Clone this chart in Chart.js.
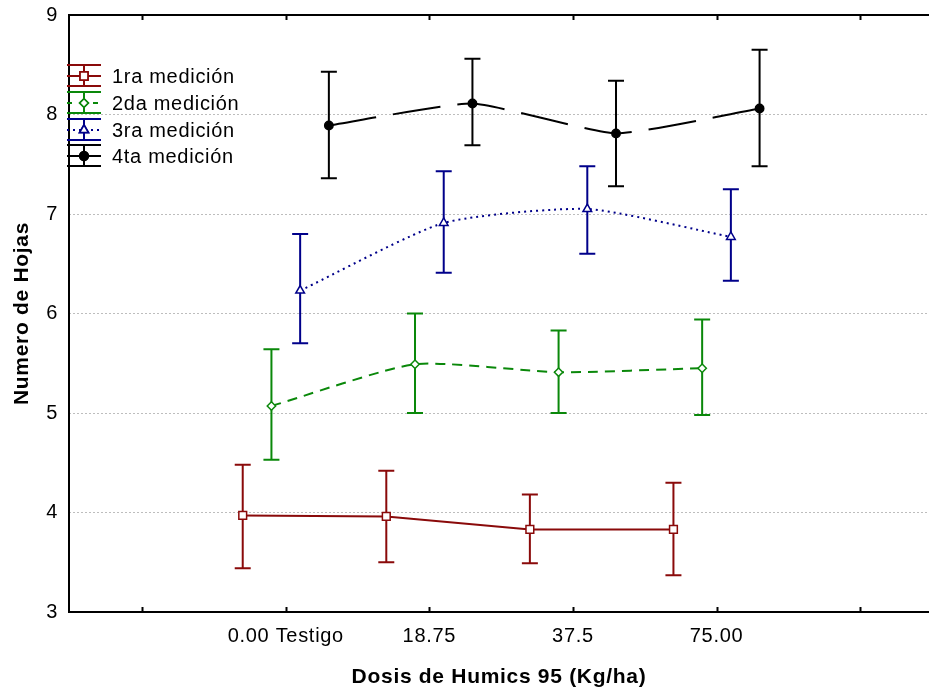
<!DOCTYPE html>
<html>
<head>
<meta charset="utf-8">
<script src="https://cdn.jsdelivr.net/npm/chart.js@4/dist/chart.umd.min.js"></script>
<style>
  html, body { margin: 0; padding: 0; background: #fff; overflow: hidden; }
  #wrap { width: 929px; height: 692px; }
</style>
</head>
<body>
<div id="wrap"><canvas id="chart"></canvas></div>
<script>
// Data
const categories = ["0.00 Testigo", "18.75", "37.5", "75.00"];
const seriesNames = ["1ra medición", "2da medición", "3ra medición", "4ta medición"];

const mean1 = [3.97, 3.96, 3.83, 3.83];
const upper1 = [4.48, 4.42, 4.18, 4.30];
const lower1 = [3.44, 3.50, 3.49, 3.37];

const mean2 = [5.07, 5.49, 5.41, 5.45];
const upper2 = [5.64, 6.00, 5.83, 5.94];
const lower2 = [4.53, 5.00, 5.00, 4.98];

const mean3 = [6.23, 6.91, 7.05, 6.77];
const upper3 = [6.80, 7.43, 7.48, 7.25];
const lower3 = [5.70, 6.41, 6.60, 6.33];

const mean4 = [7.89, 8.11, 7.81, 8.06];
const upper4 = [8.43, 8.56, 8.34, 8.65];
const lower4 = [7.36, 7.69, 7.28, 7.48];

const yTicks = [3, 4, 5, 6, 7, 8, 9];

// Styles for each series
const colors = ["#8a0a0a", "#0a880a", "#00008a", "#000000"];
const offsets = [-0.3, -0.1, 0.1, 0.3];
const dashes = [[], [10, 7], [2, 4], [48, 17]];
const markers = ["rect", "rectRot", "triangle", "circle"];
const markerSizes = [5.5, 4.2, 5, 4.2];
const markerFill = ["#fff", "#fff", "#fff", "#000"];
const tensions = [0, 0.2, 0.2, 0.15];

const means = [mean1, mean2, mean3, mean4];
const uppers = [upper1, upper2, upper3, upper4];
const lowers = [lower1, lower2, lower3, lower4];

const FONT = "'Liberation Sans', Arial, sans-serif";

const datasets = means.map((m, s) => ({
  label: seriesNames[s],
  data: m.map((v, i) => ({ x: i + 1 + offsets[s], y: v })),
  upper: uppers[s],
  lower: lowers[s],
  borderColor: colors[s],
  borderWidth: 2,
  borderDash: dashes[s],
  tension: tensions[s],
  pointStyle: markers[s],
  pointRadius: markerSizes[s],
  pointBackgroundColor: markerFill[s],
  pointBorderColor: colors[s],
  pointBorderWidth: 1.5,
  fill: false
}));

// loose text spacing like the original
const spacing = {
  id: "spacing",
  beforeDraw(chart) { chart.ctx.letterSpacing = "0.7px"; }
};

// error bars, drawn under the markers
const errorBars = {
  id: "errorBars",
  beforeDatasetsDraw(chart) {
    const ctx = chart.ctx;
    const xs = chart.scales.x, ys = chart.scales.y;
    ctx.save();
    chart.data.datasets.forEach(ds => {
      ctx.strokeStyle = ds.borderColor;
      ctx.lineWidth = 2;
      ctx.setLineDash([]);
      ds.data.forEach((p, i) => {
        const x = xs.getPixelForValue(p.x);
        const yt = ys.getPixelForValue(ds.upper[i]);
        const yb = ys.getPixelForValue(ds.lower[i]);
        ctx.beginPath();
        ctx.moveTo(x, yt); ctx.lineTo(x, yb);
        ctx.moveTo(x - 8, yt); ctx.lineTo(x + 8, yt);
        ctx.moveTo(x - 8, yb); ctx.lineTo(x + 8, yb);
        ctx.stroke();
      });
    });
    ctx.restore();
  }
};

// frame lines, inward ticks and the legend box
const frame = {
  id: "frame",
  afterDraw(chart) {
    const ctx = chart.ctx;
    const a = chart.chartArea;
    const xs = chart.scales.x;
    ctx.save();
    ctx.strokeStyle = "#000";
    ctx.lineWidth = 2;
    ctx.setLineDash([]);
    ctx.beginPath();
    ctx.moveTo(a.left, a.bottom); ctx.lineTo(a.left, a.top); ctx.lineTo(a.right, a.top);
    ctx.moveTo(a.left - 1, a.bottom); ctx.lineTo(a.right, a.bottom);
    for (let v = 0; v <= 5; v++) {
      const x = Math.round(xs.getPixelForValue(v)) + 0.5;
      ctx.moveTo(x, a.top); ctx.lineTo(x, a.top + 5);
      ctx.moveTo(x, a.bottom); ctx.lineTo(x, a.bottom - 5);
    }
    ctx.stroke();

    // legend
    const x0 = 67, x1 = 101, xc = 84;
    const rows = [76, 103, 130, 156];
    chart.data.datasets.forEach((ds, s) => {
      const y = rows[s];
      ctx.strokeStyle = ds.borderColor;
      ctx.lineWidth = 2;
      ctx.setLineDash([]);
      ctx.beginPath();
      ctx.moveTo(x0, y - 11); ctx.lineTo(x1, y - 11);
      ctx.moveTo(x0, y + 10); ctx.lineTo(x1, y + 10);
      ctx.moveTo(xc, y - 11); ctx.lineTo(xc, y + 10);
      ctx.stroke();
      ctx.setLineDash(s === 1 ? [5, 8] : s === 2 ? [2, 4] : []);
      ctx.beginPath();
      ctx.moveTo(x0, y); ctx.lineTo(x1, y);
      ctx.stroke();
      ctx.setLineDash([]);
      Chart.helpers.drawPoint(ctx, {
        pointStyle: ds.pointStyle,
        radius: ds.pointRadius,
        borderWidth: ds.pointBorderWidth,
        rotation: 0
      }, xc, y);
      ctx.fillStyle = ds.pointBackgroundColor;
      ctx.strokeStyle = ds.pointBorderColor;
      ctx.lineWidth = ds.pointBorderWidth;
      ctx.fill();
      ctx.stroke();
      ctx.fillStyle = "#000";
      ctx.font = "20px " + FONT;
      ctx.textBaseline = "middle";
      ctx.textAlign = "left";
      ctx.fillText(ds.label, 112, y + 1);
    });
    ctx.restore();
  }
};

new Chart(document.getElementById("chart"), {
  type: "line",
  data: { datasets },
  plugins: [spacing, errorBars, frame],
  options: {
    responsive: true,
    maintainAspectRatio: false,
    animation: false,
    layout: { autoPadding: false, padding: { top: 15, right: 0, left: 0, bottom: 0 } },
    plugins: { legend: { display: false }, tooltip: { enabled: false } },
    scales: {
      x: {
        type: "linear",
        min: -0.51,
        max: 5.48,
        afterBuildTicks: scale => { scale.ticks = [0, 1, 2, 3, 4, 5].map(v => ({ value: v })); },
        afterFit: scale => {
          scale.height = 80;
          scale.paddingLeft = 0;
          scale.paddingRight = 0;
        },
        grid: { display: false },
        border: { display: false },
        ticks: {
          autoSkip: false,
          maxRotation: 0,
          padding: 4,
          color: "#000",
          font: { family: FONT, size: 20 },
          callback: v => (v >= 1 && v <= 4 ? categories[v - 1] : "")
        },
        title: {
          display: true,
          text: "Dosis de Humics 95 (Kg/ha)",
          color: "#000",
          padding: { top: 0, bottom: 2 },
          font: { family: FONT, size: 21, weight: "bold" }
        }
      },
      y: {
        min: 3,
        max: 9,
        afterBuildTicks: scale => { scale.ticks = yTicks.map(v => ({ value: v })); },
        afterFit: scale => {
          scale.width = 69;
          scale.paddingTop = 0;
          scale.paddingBottom = 0;
        },
        grid: {
          drawTicks: false,
          color: c => (c.tick.value > 3 && c.tick.value < 9 ? "#bdbdbd" : "rgba(0,0,0,0)"),
          lineWidth: 1
        },
        border: { display: false, dash: [2, 2] },
        ticks: {
          padding: 11,
          color: "#000",
          font: { family: FONT, size: 20 }
        },
        title: {
          display: true,
          text: "Numero de Hojas",
          color: "#000",
          padding: { top: 10, bottom: 0 },
          font: { family: FONT, size: 21, weight: "bold" }
        }
      }
    }
  }
});
</script>
</body>
</html>
